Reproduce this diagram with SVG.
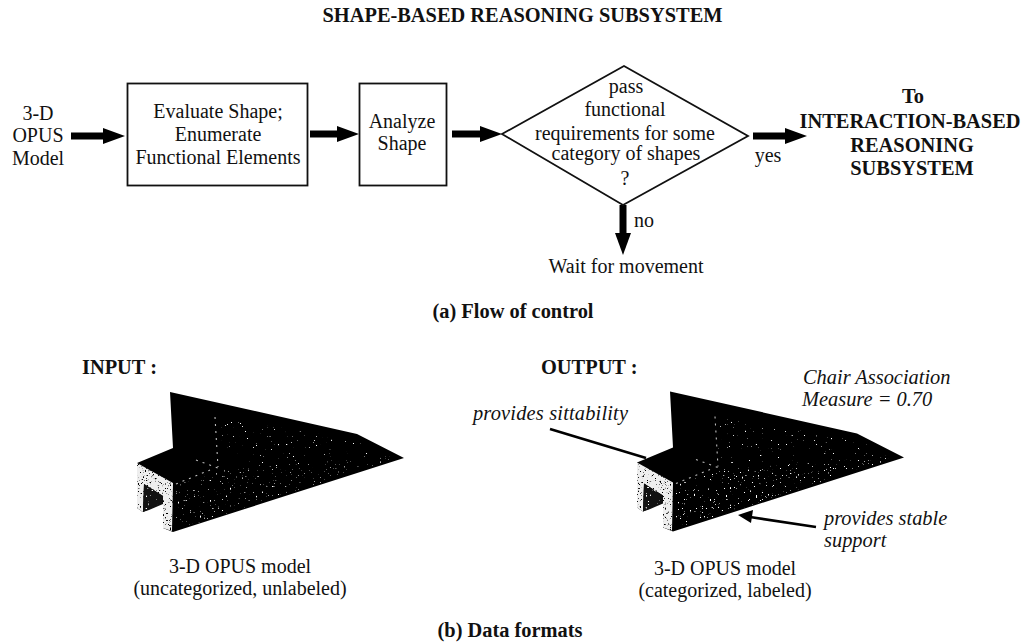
<svg xmlns="http://www.w3.org/2000/svg" width="1026" height="643" viewBox="0 0 1026 643">
<style>
text{font-family:"Liberation Serif","Times New Roman",serif;font-size:20px;fill:#111;text-anchor:middle}
.b{font-weight:bold;font-size:20.400px}
.i{font-style:italic;font-size:20.400px}
.s{text-anchor:start}
.box{fill:none;stroke:#111;stroke-width:1.800}
.arr{fill:none;stroke:#000;stroke-width:7;marker-end:url(#h)}
.ptr{fill:none;stroke:#000;stroke-width:2.600}
.lit{fill:none;stroke:#bbb;stroke-width:1.100;stroke-dasharray:2 5}
</style>
<defs>
<marker id="h" markerUnits="userSpaceOnUse" markerWidth="24" markerHeight="16" refX="1" refY="8" orient="auto"><path d="M0 0L22 8L0 16z" fill="#000"/></marker>
<filter id="sp" x="0" y="0" width="1" height="1" color-interpolation-filters="sRGB"><feTurbulence type="fractalNoise" baseFrequency="0.5" numOctaves="2" seed="4" result="n"/><feColorMatrix in="n" type="matrix" values="0 0 0 0 1 0 0 0 0 1 0 0 0 0 1 14 0 0 0 -9.800"/><feComposite in2="SourceAlpha" operator="in" result="w"/><feMerge><feMergeNode in="SourceGraphic"/><feMergeNode in="w"/></feMerge></filter>
<filter id="sb" x="0" y="0" width="1" height="1" color-interpolation-filters="sRGB"><feTurbulence type="fractalNoise" baseFrequency="0.45" numOctaves="2" seed="11" result="n"/><feColorMatrix in="n" type="matrix" values="0 0 0 0 1 0 0 0 0 1 0 0 0 0 1 14 0 0 0 -10.600"/><feComposite in2="SourceAlpha" operator="in" result="w"/><feMerge><feMergeNode in="SourceGraphic"/><feMergeNode in="w"/></feMerge></filter>
<filter id="sl" x="0" y="0" width="1" height="1" color-interpolation-filters="sRGB"><feTurbulence type="fractalNoise" baseFrequency="0.6" numOctaves="2" seed="9" result="n"/><feColorMatrix in="n" type="matrix" values="0 0 0 0 0 0 0 0 0 0 0 0 0 0 0 10 0 0 0 -6.200"/><feComposite in2="SourceAlpha" operator="in" result="w"/><feMerge><feMergeNode in="SourceGraphic"/><feMergeNode in="w"/></feMerge></filter>
<g id="shape">
<path d="M170 392L357 434L404 458L173 532L163 528L163 503L143 512L137 508L137 463L173 448z" fill="#000"/>
<path d="M220 418L357 440L396 457L260 480L218 466z" fill="#000" filter="url(#sb)"/>
<path d="M175 486L218 470L396 458L176 530z" fill="#000" filter="url(#sp)"/>
<path d="M215 417L218 467M176 484L210 470M196 460L218 468" class="lit"/>
<path d="M137 463L173 483L172 531L163 528L163 496L144 484L143 512L137 508z" fill="#eee" filter="url(#sl)"/>
<path d="M144 484L163 496L163 504L149 510L143 512z" fill="#111" filter="url(#sp)"/>
</g>
</defs>
<text class="b" x="522.500" y="22">SHAPE-BASED REASONING SUBSYSTEM</text>
<g id="n-in-model"><use href="#shape"/></g>
<g id="n-out-model"><use href="#shape" transform="translate(500 -0.500)"/></g>
<g id="connectors">
<path class="arr" d="M71 136H104"/>
<path class="arr" d="M310 134H338"/>
<path class="arr" d="M452 134H481"/>
<path class="arr" d="M753 136H786"/>
<path class="arr" d="M623 205V234"/>
<path class="ptr" d="M550 429L646 458"/>
<path class="ptr" d="M816 527L750 517"/>
<path d="M738 515L753 510L751 523z" fill="#000"/>
</g>
<g id="n-input"><text x="38" y="120">3-D</text><text x="38" y="142">OPUS</text><text x="38" y="165">Model</text></g>
<g id="n-evaluate"><rect class="box" x="127.500" y="83.500" width="180" height="102"/><text x="218" y="118">Evaluate Shape;</text><text x="218" y="141">Enumerate</text><text x="218" y="164">Functional Elements</text></g>
<g id="n-analyze"><rect class="box" x="359.500" y="83.500" width="87" height="102"/><text x="402" y="128">Analyze</text><text x="402" y="150">Shape</text></g>
<g id="n-decision"><path class="box" d="M502 134L624 66L748 136L623 205z"/><text x="626" y="93">pass</text><text x="625" y="116">functional</text><text x="625" y="140">requirements for some</text><text x="626" y="160">category of shapes</text><text x="625" y="185">?</text></g>
<g id="n-target"><text class="b" x="913" y="103">To</text><text class="b" x="910" y="128">INTERACTION-BASED</text><text class="b" x="912" y="152">REASONING</text><text class="b" x="912" y="175">SUBSYSTEM</text></g>
<text x="768" y="162">yes</text>
<text class="s" x="634" y="227">no</text>
<g id="n-wait"><text x="626" y="273">Wait for movement</text></g>
<text class="b" x="513" y="318">(a) Flow of control</text>
<text class="b s" x="82" y="374">INPUT :</text>
<text class="b s" x="541" y="374">OUTPUT :</text>
<text class="i s" x="803" y="384">Chair Association</text>
<text class="i s" x="802" y="406">Measure = 0.70</text>
<text class="i s" x="473" y="420" textLength="155">provides sittability</text>
<text class="i s" x="824" y="525">provides stable</text>
<text class="i s" x="824" y="547">support</text>
<text x="240" y="573">3-D OPUS model</text><text x="240" y="595">(uncategorized, unlabeled)</text>
<text x="725" y="575">3-D OPUS model</text><text x="725" y="597">(categorized, labeled)</text>
<text class="b" x="510" y="637">(b) Data formats</text>
</svg>
